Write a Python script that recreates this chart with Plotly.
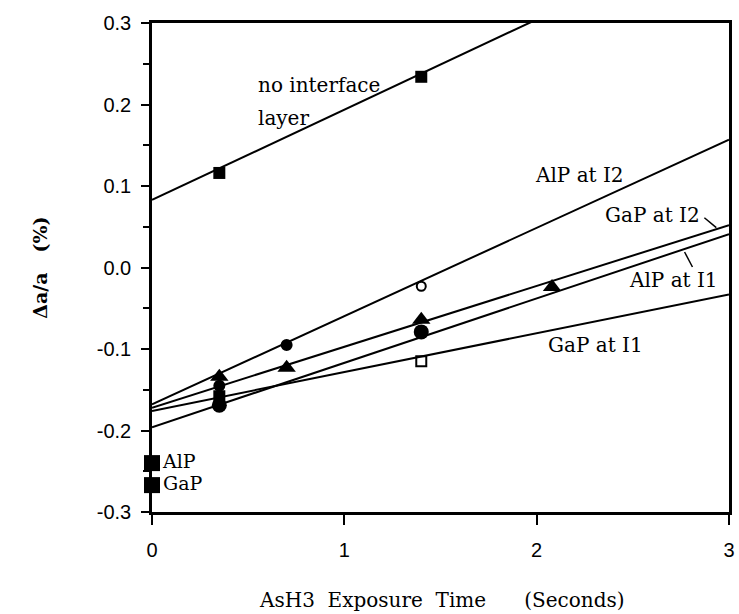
import plotly.graph_objects as go

# ---- data ----
noint_x = [0.35, 1.40]
noint_y = [0.116, 0.234]

alp_i2_x = [0.35, 0.70, 1.40]
alp_i2_y = [-0.145, -0.095, -0.023]

gap_i2_x = [0.35, 0.70, 1.40, 2.08]
gap_i2_y = [-0.134, -0.123, -0.064, -0.024]

alp_i1_x = [0.35, 1.40]
alp_i1_y = [-0.169, -0.079]

gap_i1_x = [0.35, 1.40]
gap_i1_y = [-0.158, -0.115]

bulk_x = [0.0, 0.0]
bulk_y = [-0.240, -0.267]
bulk_labels = ["AlP", "GaP"]

# fitted straight lines (values at x = 0 and x = 3)
fit_x = [0, 3]
noint_fit = [0.083, 0.415]
alp_i2_fit = [-0.168, 0.157]
gap_i2_fit = [-0.172, 0.052]
alp_i1_fit = [-0.196, 0.041]
gap_i1_fit = [-0.176, -0.033]

x_ticks = [0, 1, 2, 3]
y_ticks = [-0.3, -0.2, -0.1, 0.0, 0.1, 0.2, 0.3]
y_ticklabels = ["-0.3", "-0.2", "-0.1", "0.0", "0.1", "0.2", "0.3"]

SERIF = "DejaVu Serif"
SANS = "Liberation Sans"
BLACK = "black"

fig = go.Figure()

for fy in [noint_fit, alp_i2_fit, gap_i2_fit, alp_i1_fit, gap_i1_fit]:
    fig.add_trace(go.Scatter(x=fit_x, y=fy, mode="lines",
                             line=dict(color=BLACK, width=2), hoverinfo="skip"))

fig.add_trace(go.Scatter(x=noint_x, y=noint_y, mode="markers",
                         marker=dict(symbol="square", size=12, color=BLACK, opacity=1)))
fig.add_trace(go.Scatter(x=alp_i2_x, y=alp_i2_y, mode="markers",
                         marker=dict(symbol=["circle", "circle", "circle-open"],
                                     size=[10, 10, 9], color=BLACK, opacity=1,
                                     line=dict(color=BLACK, width=2))))
fig.add_trace(go.Scatter(x=gap_i2_x, y=gap_i2_y, mode="markers",
                         marker=dict(symbol="triangle-up", size=16, color=BLACK, opacity=1)))
fig.add_trace(go.Scatter(x=alp_i1_x, y=alp_i1_y, mode="markers",
                         marker=dict(symbol="circle", size=15, color=BLACK, opacity=1)))
fig.add_trace(go.Scatter(x=gap_i1_x, y=gap_i1_y, mode="markers",
                         marker=dict(symbol=["square", "square-open"], size=[10, 10],
                                     color=BLACK, opacity=1,
                                     line=dict(color=BLACK, width=2))))
fig.add_trace(go.Scatter(x=bulk_x, y=bulk_y, mode="markers+text", cliponaxis=False,
                         text=bulk_labels, textposition="middle right",
                         textfont=dict(family=SERIF, size=19, color=BLACK),
                         marker=dict(symbol="square", size=16, color=BLACK, opacity=1)))

labels = [
    ("no interface", 0.54, 0.224),
    ("layer", 0.54, 0.183),
    ("AlP at I2", 1.98, 0.113),
    ("GaP at I2", 2.347, 0.064),
    ("AlP at I1", 2.47, -0.015),
    ("GaP at I1", 2.048, -0.095),
]
for t, x, y in labels:
    fig.add_annotation(x=x, y=y, xref="x", yref="y", text=t, showarrow=False,
                       xanchor="left", yanchor="middle",
                       font=dict(family=SERIF, size=20, color=BLACK))

# leader lines
fig.add_shape(type="line", xref="x", yref="y", x0=2.872, y0=0.061, x1=2.934, y1=0.049,
              line=dict(color=BLACK, width=1.5))
fig.add_shape(type="line", xref="x", yref="y", x0=2.81, y0=0.0006, x1=2.769, y1=0.019,
              line=dict(color=BLACK, width=1.5))

# axis titles
fig.add_annotation(x=0.5026, y=-0.18, xref="paper", yref="paper",
                   text="AsH3\u00a0\u00a0Exposure\u00a0\u00a0Time\u00a0\u00a0\u00a0\u00a0\u00a0\u00a0(Seconds)",
                   showarrow=False, xanchor="center", yanchor="middle",
                   font=dict(family=SERIF, size=20, color=BLACK))
fig.add_annotation(x=-0.1955, y=0.5, xref="paper", yref="paper",
                   text="<b>\u0394a/a\u00a0\u00a0\u00a0(%)</b>", textangle=-90,
                   showarrow=False, xanchor="center", yanchor="middle",
                   font=dict(family=SERIF, size=19, color=BLACK))

fig.update_xaxes(range=[0, 3], tickvals=x_ticks, ticktext=[str(v) for v in x_ticks],
                 showgrid=False, zeroline=False, showline=True, linecolor=BLACK,
                 linewidth=2.5, mirror=True, ticks="outside", ticklen=10, tickwidth=2,
                 tickcolor=BLACK, ticklabelstandoff=8,
                 tickfont=dict(family=SANS, size=20, color=BLACK))
fig.update_yaxes(range=[-0.3, 0.3], tickvals=y_ticks, ticktext=y_ticklabels,
                 showgrid=False, zeroline=False, showline=True, linecolor=BLACK,
                 linewidth=2.5, mirror=True, ticks="outside", ticklen=8, tickwidth=2,
                 tickcolor=BLACK, ticklabelstandoff=6,
                 minor=dict(dtick=0.05, ticks="outside", ticklen=6, tickwidth=2,
                            tickcolor=BLACK, showgrid=False),
                 tickfont=dict(family=SANS, size=20, color=BLACK))

fig.update_layout(width=739, height=614, showlegend=False,
                  margin=dict(l=152, r=4, t=23, b=102),
                  paper_bgcolor="white", plot_bgcolor="white")

fig.write_html("out.html")
